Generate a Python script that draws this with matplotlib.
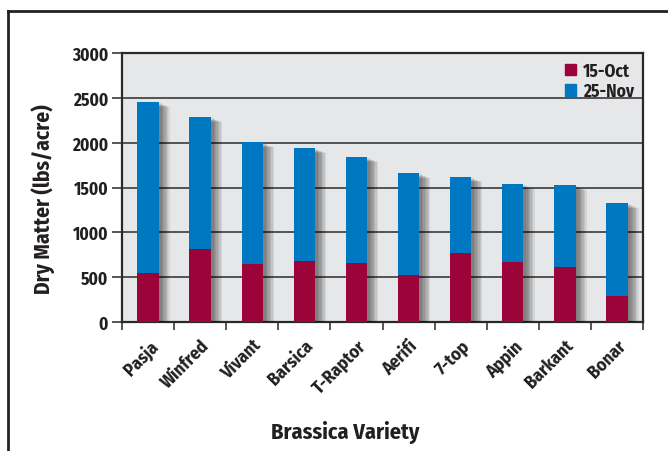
import matplotlib
matplotlib.use("Agg")
import matplotlib.pyplot as plt
import matplotlib.patheffects as pe
from matplotlib.patches import Patch
from matplotlib.font_manager import fontManager
import numpy as np

varieties = ["Pasja", "Winfred", "Vivant", "Barsica", "T-Raptor", "Aerifi", "7-top", "Appin", "Barkant", "Bonar"]
oct15 = [545, 812, 645, 678, 655, 522, 767, 666, 611, 287]
nov25 = [2453, 2286, 2003, 1940, 1839, 1660, 1616, 1538, 1527, 1325]
yticks = [0, 500, 1000, 1500, 2000, 2500, 3000]

names = {f.name for f in fontManager.ttflist}
fam = [f for f in ["Fira Sans Condensed", "PT Sans Narrow", "Open Sans Condensed"] if f in names] + ["DejaVu Sans"]
plt.rcParams["font.family"] = fam
plt.rcParams["font.weight"] = "bold"

RED = "#9c0439"
BLUE = "#0078c1"
TXT = "#231f20"

fig = plt.figure(figsize=(6.68, 4.52), dpi=100)
ax = fig.add_axes([122/668, 1-323/452, 521/668, 269/452])
ax.set_facecolor("#e6e7e9")

x = np.arange(len(varieties))
shadow = [pe.SimplePatchShadow(offset=(d, -d*0.45), alpha=0.08, shadow_rgbFace="k") for d in (8, 7, 6, 5, 4, 3, 2)] + [pe.Normal()]
bars_nov = ax.bar(x, nov25, width=0.41, color=BLUE, zorder=3)
bars_oct = ax.bar(x, oct15, width=0.41, color=RED, zorder=4)
for b in bars_nov:
    b.set_path_effects(shadow)

ax.set_xlim(-0.5, len(varieties) - 0.5)
ax.set_ylim(0, 3000)
ax.set_yticks(yticks)
ax.set_yticklabels([str(v) for v in yticks], fontsize=12.5, fontweight="bold", color=TXT)
ax.yaxis.grid(True, color="#3a3a3a", linewidth=1.2, zorder=1)
ax.set_axisbelow(True)
ax.tick_params(axis="y", length=7, width=1.2, color="#3a3a3a", pad=3)

ax.set_xticks(x)
ax.set_xticklabels(varieties, rotation=45, ha="right", rotation_mode="anchor", fontsize=13, fontweight="bold", color=TXT)
ax.set_xticks(np.arange(len(varieties) + 1) - 0.5, minor=True)
ax.tick_params(axis="x", which="major", length=0, pad=10)
ax.tick_params(axis="x", which="minor", length=6, width=1.2, color="#3a3a3a")

for s in ax.spines.values():
    s.set_linewidth(1.6)
    s.set_color("#2a2a2a")

ax.set_ylabel("Dry Matter (lbs/acre)", fontsize=15.5, fontweight="bold", color=TXT)
ax.yaxis.set_label_coords(-(122 - 55) / 521, (323 - 199) / 269)
ax.set_xlabel("Brassica Variety", fontsize=16, fontweight="bold", color=TXT)
ax.xaxis.set_label_coords((345 - 122) / 521, -(421 - 323) / 269)

handles = [Patch(color=RED), Patch(color=BLUE)]
leg = ax.legend(handles, ["15-Oct", "25-Nov"], loc="upper right", frameon=False,
                handlelength=0.65, handleheight=0.65, handletextpad=0.4, labelspacing=0.15,
                borderaxespad=0.1, prop={"weight": "bold", "size": 12.5})
for t in leg.get_texts():
    t.set_color(TXT)

# outer frame
fig.add_artist(plt.Line2D([8/668, 8/668], [0, 1-12/452], color="#222", linewidth=2, transform=fig.transFigure))
fig.add_artist(plt.Line2D([8/668, 1], [1-12/452, 1-12/452], color="#222", linewidth=2, transform=fig.transFigure))

fig.savefig("out.png", dpi=100)
